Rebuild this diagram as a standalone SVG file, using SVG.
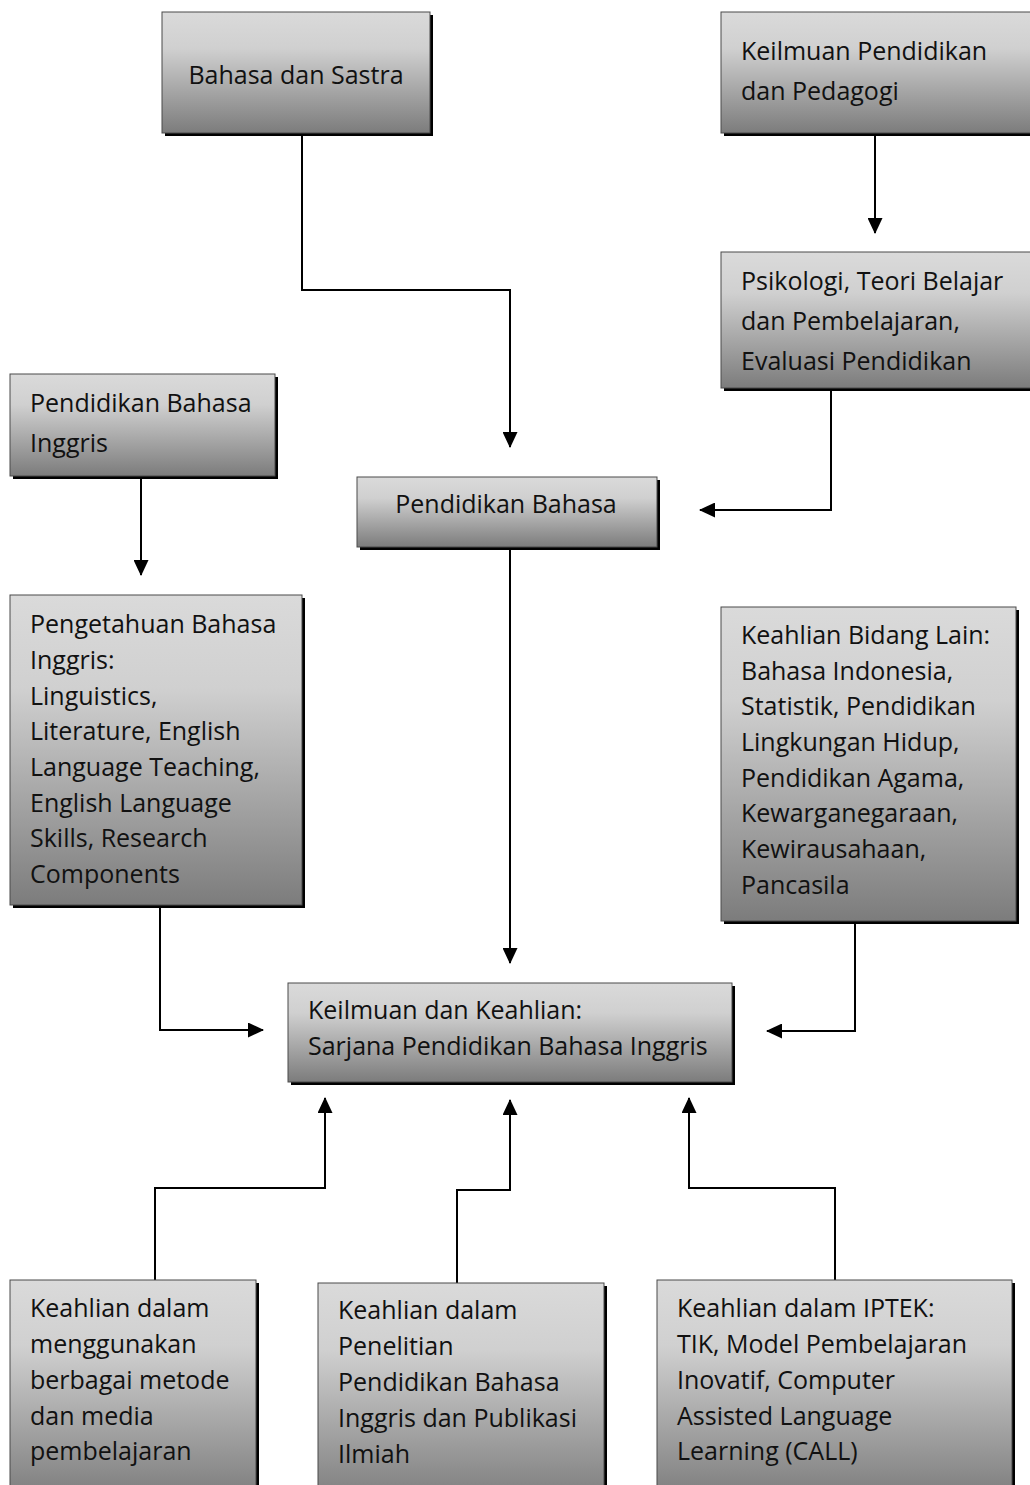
<svg xmlns="http://www.w3.org/2000/svg" width="1030" height="1485" viewBox="0 0 1030 1485">
<defs>
<linearGradient id="g" x1="0" y1="0" x2="0" y2="1">
<stop offset="0" stop-color="#dadada"/>
<stop offset="0.3" stop-color="#d0d0d0"/>
<stop offset="1" stop-color="#7c7c7c"/>
</linearGradient>
<marker id="arr" markerUnits="userSpaceOnUse" markerWidth="16" markerHeight="15" viewBox="0 0 16 15" refX="15" refY="7.5" orient="auto">
<path d="M0,0 L16,7.5 L0,15 Z" fill="#000"/>
</marker>
</defs>
<style>
.sh{fill:#000}
.bx{fill:url(#g);stroke:#4a4a4a;stroke-width:1}
text{font-family:"Open Sans","Noto Sans",sans-serif;font-size:25px;fill:#111}
.c{stroke:#000;stroke-width:2;fill:none;marker-end:url(#arr)}
</style>
<rect width="1030" height="1485" fill="#fff"/>
<g id="connectors">
<path class="c" d="M302,134 V290 H510 V447"/>
<path class="c" d="M875,134 V233"/>
<path class="c" d="M831,390 V510 H700"/>
<path class="c" d="M141,478 V575"/>
<path class="c" d="M510,549 V963"/>
<path class="c" d="M160,908 V1030 H263"/>
<path class="c" d="M855,923 V1031 H767"/>
<path class="c" d="M155,1280 V1188 H325 V1098"/>
<path class="c" d="M457,1283 V1190 H510 V1100"/>
<path class="c" d="M835,1280 V1188 H689 V1098"/>
</g>
<g id="n1">
<rect class="sh" x="165" y="15" width="268" height="121"/>
<rect class="bx" x="162" y="12" width="268" height="121"/>
<text x="296" y="84" text-anchor="middle">Bahasa dan Sastra</text>
</g>
<g id="n2">
<rect class="sh" x="724" y="15" width="312" height="121"/>
<rect class="bx" x="721" y="12" width="312" height="121"/>
<text x="741" y="60">Keilmuan Pendidikan</text>
<text x="741" y="100">dan Pedagogi</text>
</g>
<g id="n3">
<rect class="sh" x="724" y="255" width="312" height="136"/>
<rect class="bx" x="721" y="252" width="312" height="136"/>
<text x="741" y="290">Psikologi, Teori Belajar</text>
<text x="741" y="330">dan Pembelajaran,</text>
<text x="741" y="370">Evaluasi Pendidikan</text>
</g>
<g id="n4">
<rect class="sh" x="13" y="377" width="265" height="102"/>
<rect class="bx" x="10" y="374" width="265" height="102"/>
<text x="30" y="412">Pendidikan Bahasa</text>
<text x="30" y="452">Inggris</text>
</g>
<g id="n5">
<rect class="sh" x="360" y="480" width="300" height="70"/>
<rect class="bx" x="357" y="477" width="300" height="70"/>
<text x="506" y="513" text-anchor="middle">Pendidikan Bahasa</text>
</g>
<g id="n6">
<rect class="sh" x="13" y="598" width="292" height="310"/>
<rect class="bx" x="10" y="595" width="292" height="310"/>
<text x="30" y="633">Pengetahuan Bahasa</text>
<text x="30" y="669">Inggris:</text>
<text x="30" y="705">Linguistics,</text>
<text x="30" y="740">Literature, English</text>
<text x="30" y="776">Language Teaching,</text>
<text x="30" y="812">English Language</text>
<text x="30" y="847">Skills, Research</text>
<text x="30" y="883">Components</text>
</g>
<g id="n7">
<rect class="sh" x="724" y="610" width="295" height="314"/>
<rect class="bx" x="721" y="607" width="295" height="314"/>
<text x="741" y="644">Keahlian Bidang Lain:</text>
<text x="741" y="680">Bahasa Indonesia,</text>
<text x="741" y="715">Statistik, Pendidikan</text>
<text x="741" y="751">Lingkungan Hidup,</text>
<text x="741" y="787">Pendidikan Agama,</text>
<text x="741" y="822">Kewarganegaraan,</text>
<text x="741" y="858">Kewirausahaan,</text>
<text x="741" y="894">Pancasila</text>
</g>
<g id="n8">
<rect class="sh" x="291" y="986" width="444" height="99"/>
<rect class="bx" x="288" y="983" width="444" height="99"/>
<text x="308" y="1019">Keilmuan dan Keahlian:</text>
<text x="308" y="1055">Sarjana Pendidikan Bahasa Inggris</text>
</g>
<g id="n9">
<rect class="sh" x="13" y="1283" width="246" height="220"/>
<rect class="bx" x="10" y="1280" width="246" height="220"/>
<text x="30" y="1317">Keahlian dalam</text>
<text x="30" y="1353">menggunakan</text>
<text x="30" y="1389">berbagai metode</text>
<text x="30" y="1425">dan media</text>
<text x="30" y="1460">pembelajaran</text>
</g>
<g id="n10">
<rect class="sh" x="321" y="1286" width="286" height="220"/>
<rect class="bx" x="318" y="1283" width="286" height="220"/>
<text x="338" y="1319">Keahlian dalam</text>
<text x="338" y="1355">Penelitian</text>
<text x="338" y="1391">Pendidikan Bahasa</text>
<text x="338" y="1427">Inggris dan Publikasi</text>
<text x="338" y="1463">Ilmiah</text>
</g>
<g id="n11">
<rect class="sh" x="660" y="1283" width="355" height="220"/>
<rect class="bx" x="657" y="1280" width="355" height="220"/>
<text x="677" y="1317">Keahlian dalam IPTEK:</text>
<text x="677" y="1353">TIK, Model Pembelajaran</text>
<text x="677" y="1389">Inovatif, Computer</text>
<text x="677" y="1425">Assisted Language</text>
<text x="677" y="1460">Learning (CALL)</text>
</g>
</svg>
